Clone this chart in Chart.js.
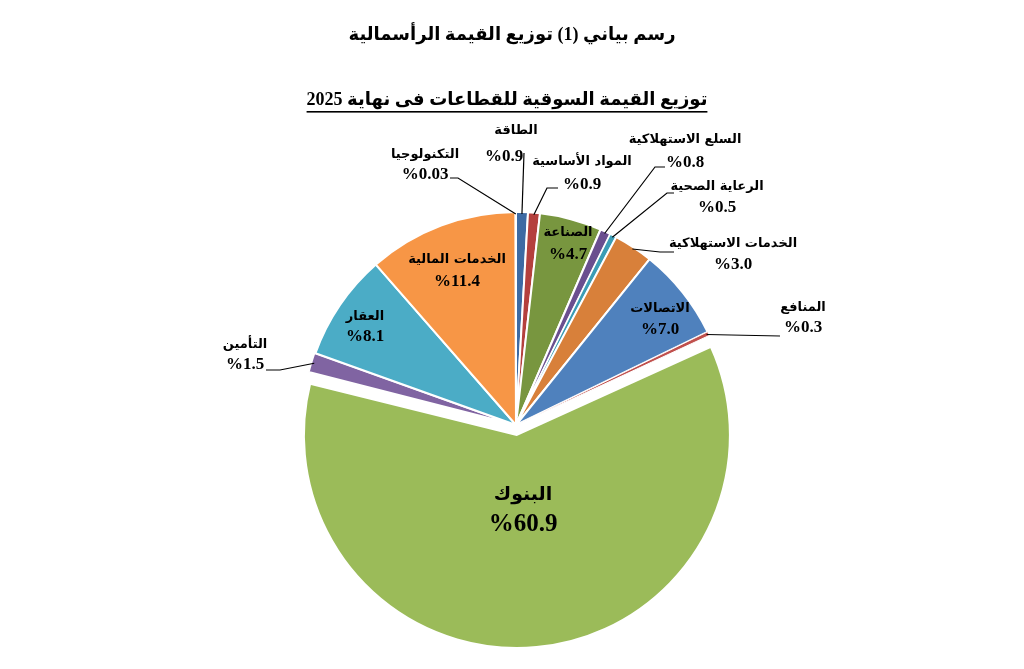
<!DOCTYPE html>
<html lang="ar">
<head>
<meta charset="utf-8">
<script src="https://cdn.jsdelivr.net/npm/chart.js@4/dist/chart.umd.min.js"></script>
<style>
  html, body { margin: 0; padding: 0; background: #fff; }
  #wrap { width: 1024px; height: 669px; position: relative; }
</style>
</head>
<body>
<div id="wrap"><canvas id="myChart" width="1024" height="669"></canvas></div>
<script>
// sectors, clockwise from 12 o'clock
var sectors = ['الطاقة', 'المواد الأساسية', 'الصناعة', 'السلع الاستهلاكية', 'الرعاية الصحية',
    'الخدمات الاستهلاكية', 'الاتصالات', 'المنافع', 'البنوك', 'التأمين', 'العقار',
    'الخدمات المالية', 'التكنولوجيا'];
var shares = [0.9, 0.9, 4.7, 0.8, 0.5, 3.0, 7.0, 0.3, 60.9, 1.5, 8.1, 11.4, 0.03];

var sliceColors = ['#3d6aa3', '#b4403d', '#78963f', '#6a4f8f', '#3b9db5', '#d8803a',
    '#4f81bd', '#c0504d', '#9bbb59', '#8064a2', '#4bacc6', '#f79646', '#7ba0d2'];
// chart.js moves a slice by offset/4 px
var sliceOffsets = [0, 0, 0, 0, 0, 0, 0, 0, 40, 4, 0, 0, 0];
var sliceBorders = [2, 2, 2, 2, 1.5, 2, 2, 1, 2, 2, 2, 2, 2];

var mainTitle = 'رسم بياني (1) توزيع القيمة الرأسمالية';
var chartTitle = 'توزيع القيمة السوقية للقطاعات فى نهاية 2025';

// label placement relative to pie centre: name line (dx,dy), value line (vx,vy),
// leader elbow (ex,ey) and end of horizontal tail (hx)
var labelLayout = [
    {dx: 0, dy: -294, vx: -12, vy: -268, ex: 8, ey: -272},
    {dx: 66, dy: -263, vx: 66, vy: -240, ex: 31, ey: -237, hx: 42},
    {dx: 52, dy: -192, vx: 52, vy: -170},
    {dx: 169, dy: -285, vx: 169, vy: -262, ex: 139, ey: -258, hx: 149},
    {dx: 201, dy: -238, vx: 201, vy: -217, ex: 151, ey: -232, hx: 158},
    {dx: 217, dy: -181, vx: 217, vy: -160, ex: 144, ey: -173, hx: 158},
    {dx: 144, dy: -116, vx: 144, vy: -95},
    {dx: 287, dy: -117, vx: 287, vy: -97, ex: 264, ey: -89},
    {dx: 7, dy: 70, vx: 7, vy: 100, big: true},
    {dx: -271, dy: -80, vx: -271, vy: -60, ex: -236, ey: -55, hx: -250},
    {dx: -151, dy: -108, vx: -151, vy: -88},
    {dx: -59, dy: -165, vx: -59, vy: -143},
    {dx: -91, dy: -270, vx: -91, vy: -250, ex: -58, ey: -247, hx: -66}
];

function fmtShare(v) {
    return '%' + (v < 0.1 ? v.toFixed(2) : v.toFixed(1));
}

// chart.js also grows an offset slice's radius by the offset, undo that
var keepRadius = {
    id: 'keepRadius',
    beforeDatasetsDraw: function(chart) {
        var arcs = chart.getDatasetMeta(0).data;
        arcs.forEach(function(arc, i) {
            var c = arc.endAngle - arc.startAngle;
            var fix = 1 - Math.sin(Math.min(Math.PI, c));
            arc.outerRadius = chart.options.radius - (sliceOffsets[i] / 4) * fix;
        });
    }
};

var labelPlugin = {
    id: 'sliceLabels',
    afterDraw: function(chart) {
        var ctx = chart.ctx;
        var arcs = chart.getDatasetMeta(0).data;
        ctx.save();
        ctx.fillStyle = '#000';
        ctx.textAlign = 'center';
        ctx.textBaseline = 'middle';

        // titles
        ctx.direction = 'rtl';
        ctx.font = 'bold 18px "Liberation Serif", "DejaVu Sans", serif';
        ctx.fillText(mainTitle, 512, 35);
        ctx.font = 'bold 18px "Liberation Serif", "DejaVu Sans", serif';
        ctx.fillText(chartTitle, 507, 100);
        var w = ctx.measureText(chartTitle).width;
        ctx.fillRect(507 - w / 2, 111, w, 1.6);

        arcs.forEach(function(arc, i) {
            var L = labelLayout[i];
            var cx = arc.x, cy = arc.y;
            var mid = (arc.startAngle + arc.endAngle) / 2;
            var r = chart.options.radius;
            if (L.ex !== undefined) {
                ctx.strokeStyle = '#000';
                ctx.lineWidth = 1.2;
                ctx.beginPath();
                ctx.moveTo(cx + Math.cos(mid) * (r - 2), cy + Math.sin(mid) * (r - 2));
                ctx.lineTo(cx + L.ex, cy + L.ey);
                if (L.hx !== undefined) ctx.lineTo(cx + L.hx, cy + L.ey);
                ctx.stroke();
            }
            ctx.direction = 'rtl';
            ctx.font = (L.big ? 'bold 19px' : 'bold 13px') + ' "DejaVu Sans", sans-serif';
            ctx.fillText(sectors[i], cx + L.dx, cy + L.dy);
            ctx.direction = 'ltr';
            ctx.font = (L.big ? 'bold 25px' : 'bold 17px') + ' "Liberation Serif", serif';
            ctx.fillText(fmtShare(shares[i]), cx + L.vx, cy + L.vy);
        });
        ctx.restore();
    }
};

var ctx = document.getElementById('myChart').getContext('2d');
var myChart = new Chart(ctx, {
    type: 'pie',
    data: {
        labels: sectors,
        datasets: [{
            data: shares,
            backgroundColor: sliceColors,
            borderColor: '#ffffff',
            borderWidth: sliceBorders,
            offset: sliceOffsets
        }]
    },
    options: {
        responsive: false,
        animation: false,
        radius: 213,
        layout: { padding: { left: 8, right: 0, top: 181, bottom: 0 } },
        plugins: {
            legend: { display: false },
            tooltip: { enabled: false },
            title: { display: false }
        }
    },
    plugins: [keepRadius, labelPlugin]
});
</script>
</body>
</html>
